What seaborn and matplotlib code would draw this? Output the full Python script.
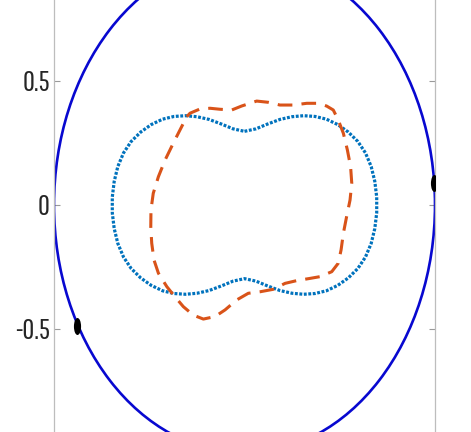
import numpy as np
import pandas as pd
import matplotlib
matplotlib.use("Agg")
import matplotlib.pyplot as plt
import seaborn as sns
from matplotlib.patches import Circle
from matplotlib.path import Path
from matplotlib.transforms import Affine2D

# ---------------- data ----------------
circle_radius = 1.0

blue_x = [0.000, 0.060, 0.120, 0.186, 0.250, 0.310, 0.370, 0.430, 0.490, 0.545, 0.595, 0.635, 0.665, 0.684, 0.694,
          0.694, 0.684, 0.665, 0.635, 0.595, 0.545, 0.490, 0.430, 0.370, 0.310, 0.250, 0.186, 0.120, 0.060, 0.000,
          -0.060, -0.120, -0.186, -0.250, -0.310, -0.370, -0.430, -0.490, -0.545, -0.595, -0.635, -0.665, -0.684, -0.694,
          -0.694, -0.684, -0.665, -0.635, -0.595, -0.545, -0.490, -0.430, -0.370, -0.310, -0.250, -0.186, -0.120, -0.060, 0.000]
blue_y = [0.297, 0.307, 0.326, 0.345, 0.356, 0.360, 0.357, 0.346, 0.324, 0.294, 0.256, 0.210, 0.155, 0.095, 0.032,
          -0.032, -0.095, -0.155, -0.210, -0.256, -0.294, -0.324, -0.346, -0.357, -0.360, -0.356, -0.345, -0.326, -0.307, -0.297,
          -0.307, -0.326, -0.345, -0.356, -0.360, -0.357, -0.346, -0.324, -0.294, -0.256, -0.210, -0.155, -0.095, -0.032,
          0.032, 0.095, 0.155, 0.210, 0.256, 0.294, 0.324, 0.346, 0.357, 0.360, 0.356, 0.345, 0.326, 0.307, 0.297]

orange_x = [-0.303, -0.286, -0.234, -0.181, -0.129, -0.067, -0.015, 0.064, 0.125, 0.186, 0.256, 0.327, 0.387,
            0.431, 0.466, 0.492, 0.519, 0.540, 0.557, 0.563, 0.554, 0.536, 0.519, 0.507, 0.492, 0.458, 0.396,
            0.344, 0.274, 0.213, 0.151, 0.081, 0.020, -0.041, -0.102, -0.155, -0.216, -0.269, -0.321, -0.365,
            -0.408, -0.452, -0.475, -0.487, -0.492, -0.491, -0.479, -0.452, -0.417, -0.374, -0.339, -0.303]
orange_y = [0.356, 0.370, 0.387, 0.390, 0.386, 0.383, 0.399, 0.419, 0.414, 0.403, 0.403, 0.410, 0.410,
            0.399, 0.383, 0.343, 0.289, 0.222, 0.154, 0.088, 0.020, -0.047, -0.114, -0.181, -0.235, -0.269, -0.289,
            -0.296, -0.305, -0.316, -0.340, -0.350, -0.356, -0.383, -0.423, -0.450, -0.460, -0.444, -0.410, -0.370,
            -0.329, -0.275, -0.222, -0.154, -0.088, -0.020, 0.047, 0.114, 0.181, 0.249, 0.302, 0.356]

dot_x = [0.995, -0.878]
dot_y = [0.090, -0.488]

y_ticks = [-0.5, 0.0, 0.5]
y_tick_labels = ["-0.5", "0", "0.5"]

# ---------------- figure ----------------
sns.set_theme(style="white")
plt.rcParams["font.family"] = ["Pathway Gothic One", "DejaVu Sans"]
plt.rcParams["axes.unicode_minus"] = False

fig = plt.figure(figsize=(4.71, 4.32), dpi=100)
ax = fig.add_axes([54 / 471, -0.1634, 381 / 471, 1.3778])

blue_df = pd.DataFrame({"x": blue_x, "y": blue_y})
orange_df = pd.DataFrame({"x": orange_x, "y": orange_y})
dots_df = pd.DataFrame({"x": dot_x, "y": dot_y})

ax.add_patch(Circle((0, 0), circle_radius, fill=False, edgecolor="#0808d0", linewidth=1.9, zorder=2))

sns.lineplot(data=blue_df, x="x", y="y", sort=False, estimator=None, ax=ax,
             color="#0072BD", linewidth=2.3, linestyle=(0, (0.9, 0.5)), zorder=3)
sns.lineplot(data=orange_df, x="x", y="y", sort=False, estimator=None, ax=ax,
             color="#D95319", linewidth=2.2, linestyle=(0, (4.8, 3.0)), zorder=4)

ellipse_marker = Path.unit_circle().transformed(Affine2D().scale(0.42, 1.0))
sns.scatterplot(data=dots_df, x="x", y="y", ax=ax, marker=ellipse_marker, s=150,
                color="black", edgecolor="black", linewidth=0, zorder=5)

ax.set_xlim(-1.0, 1.0)
ax.set_ylim(-1.2, 1.2)
ax.set_yticks(y_ticks)
ax.set_yticklabels(y_tick_labels)
ax.set_xticks([])
ax.set_xlabel("")
ax.set_ylabel("")

for side in ["left", "right"]:
    ax.spines[side].set_visible(True)
    ax.spines[side].set_color("#bdbdbd")
    ax.spines[side].set_linewidth(0.9)
for side in ["top", "bottom"]:
    ax.spines[side].set_visible(False)

ax.tick_params(axis="y", which="both", direction="in", length=4.5, width=0.8,
               color="#9a9a9a", left=True, right=True, labelleft=True, labelright=False,
               labelsize=21, labelcolor="#262626", pad=3)

fig.savefig("out.png", dpi=100)
